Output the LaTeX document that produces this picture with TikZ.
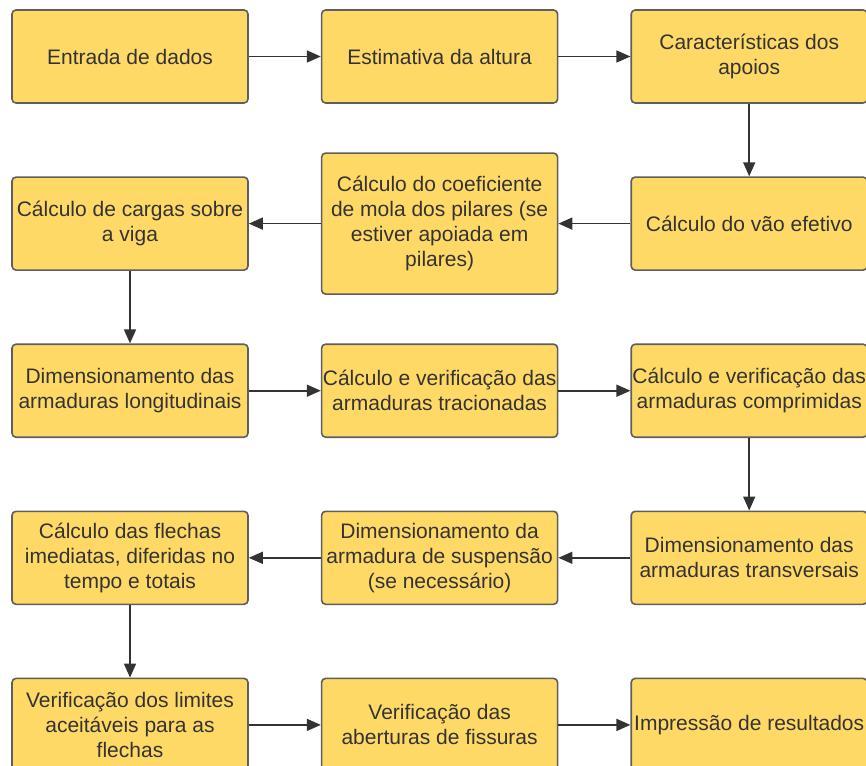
\documentclass[tikz,border=0pt]{standalone}
\usepackage{fontspec}
\setmainfont{Liberation Sans}
\usetikzlibrary{positioning,arrows.meta}

\definecolor{amarelo}{HTML}{FFD966}
\definecolor{borda}{HTML}{5E5E5E}
\definecolor{texto}{HTML}{333333}

\tikzset{
	bloco/.style={draw=borda, fill=amarelo, line width=0.8pt, rounded corners=2pt,
		minimum width=118pt, minimum height=46.5pt, inner sep=0pt, align=center,
		text=texto, font=\fontsize{10.5}{12.5}\selectfont},
	seta/.style={-{Triangle[length=7pt,width=6pt]}, draw=texto, line width=0.8pt}
}

\begin{document}
\begin{tikzpicture}[node distance = 36.25pt and 36pt]
	\useasboundingbox (0,0) rectangle (433pt,-382.5pt);

	\node[bloco] (entrada) at (65pt,-28.25pt) {Entrada de dados};
	\node[bloco, right = of entrada] (altura) {Estimativa da altura};
	\node[bloco, right = of altura] (apoios) {Características dos\\apoios};
	\node[bloco, below = of apoios] (vao) {Cálculo do vão efetivo};
	\node[bloco, left = of vao, minimum height=70.5pt] (mola) {Cálculo do coeficiente\\de mola dos pilares (se\\estiver apoiada em\\pilares)};
	\node[bloco, left = of mola] (cargas) {Cálculo de cargas sobre\\a viga};
	\node[bloco, below = of cargas] (long) {Dimensionamento das\\armaduras longitudinais};
	\node[bloco, right = of long] (trac) {Cálculo e verificação das\\armaduras tracionadas};
	\node[bloco, right = of trac] (comp) {Cálculo e verificação das\\armaduras comprimidas};
	\node[bloco, below = of comp] (transv) {Dimensionamento das\\armaduras transversais};
	\node[bloco, left = of transv] (susp) {Dimensionamento da\\armadura de suspensão\\(se necessário)};
	\node[bloco, left = of susp] (flechas) {Cálculo das flechas\\imediatas, diferidas no\\tempo e totais};
	\node[bloco, below = of flechas] (limites) {Verificação dos limites\\aceitáveis para as\\flechas};
	\node[bloco, right = of limites] (fissuras) {Verificação das\\aberturas de fissuras};
	\node[bloco, right = of fissuras] (result) {Impressão de resultados};

	\foreach \a/\b in {entrada/altura, altura/apoios, apoios/vao, vao/mola, mola/cargas,
		cargas/long, long/trac, trac/comp, comp/transv, transv/susp, susp/flechas,
		flechas/limites, limites/fissuras, fissuras/result}
		\draw[seta] (\a) -- (\b);
\end{tikzpicture}
\end{document}
